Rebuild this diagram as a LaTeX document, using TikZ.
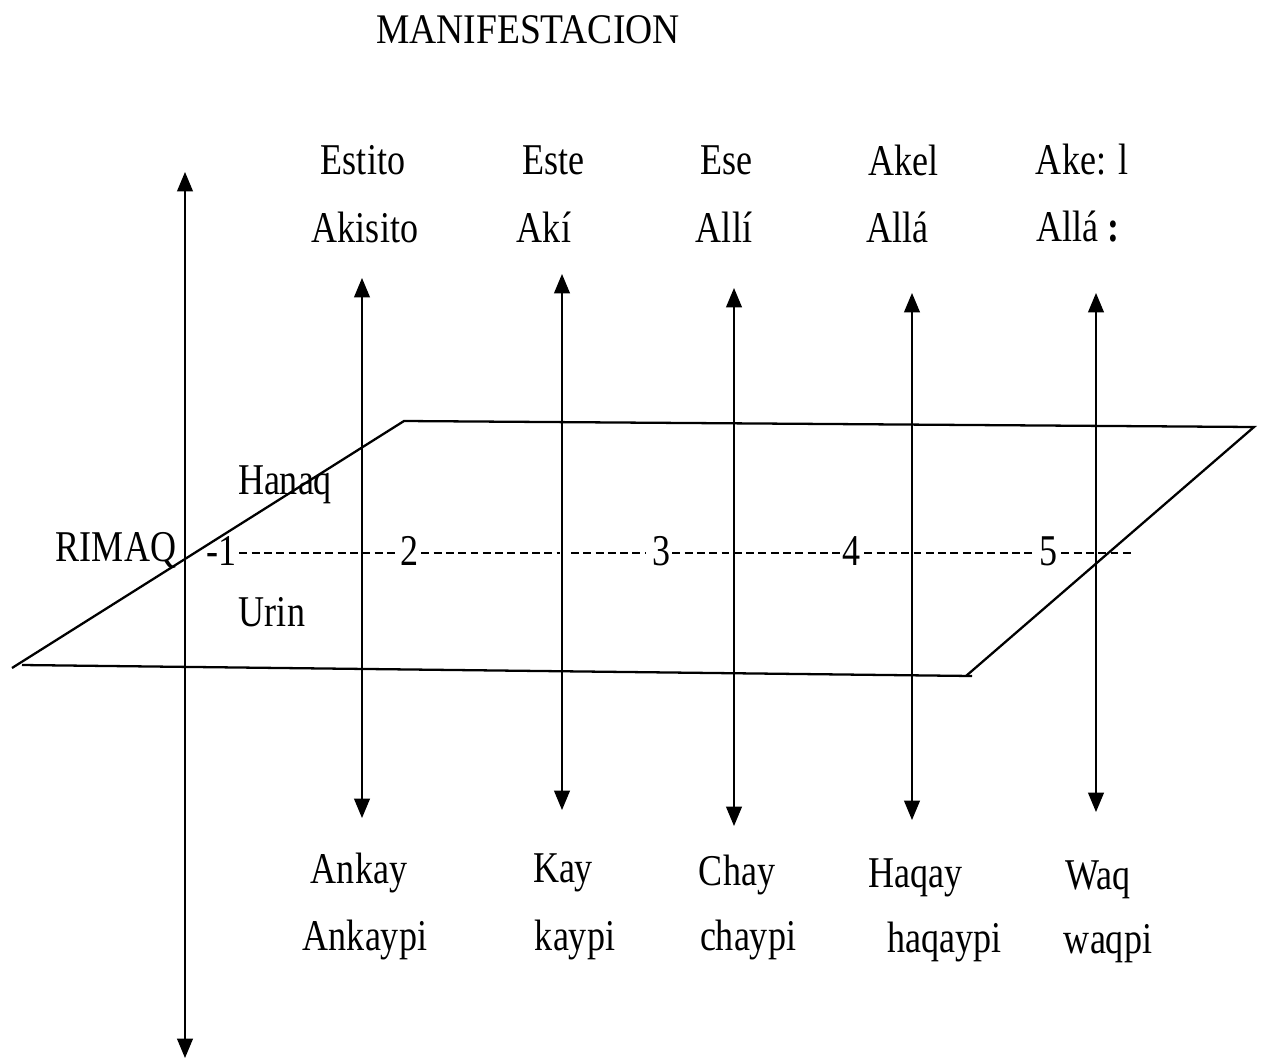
\documentclass[tikz,border=0pt]{standalone}
\usepackage{fontspec}
\setmainfont{Liberation Serif}[FakeStretch=0.82]
\newfontfamily\titlefont{Liberation Serif}[FakeStretch=0.89]
\usetikzlibrary{arrows.meta,calc,positioning}

\begin{document}
\begin{tikzpicture}[x=0.02cm, y=-0.02cm,
      word/.style={inner sep=0pt, font=\fontsize{25}{28}\selectfont},
      axis/.style={line width=0.8pt, {Triangle[length=11pt,width=9pt]}-{Triangle[length=11pt,width=9pt]}},
      plane/.style={line width=1.3pt},
      ruler/.style={line width=1.2pt, dash pattern=on 4.5pt off 2.5pt}
    ]
      \useasboundingbox (0,0) rectangle (1265,1062);

      % Title
      \node[word, font=\titlefont\fontsize{24}{27}\selectfont] (title) at (528,30) {MANIFESTACION};

      % Main axis
      \coordinate (axtop) at (185,172);
      \coordinate (axbot) at (185,1058);
      \draw[axis] (axbot) -- (axtop);

      % Plane
      \coordinate (tl) at (404,421);
      \coordinate (tr) at (1254,427);
      \coordinate (br) at (966,676);
      \coordinate (brx) at (972,676);
      \coordinate (bl) at (22,665);
      \coordinate (blx) at (12,668);
      \draw[plane] (blx) -- (tl) -- (tr) -- (br);
      \draw[plane] (bl) -- (brx);

      % Column arrows
      \coordinate (a1t) at (362,278);  \coordinate (a1b) at (362,818);
      \coordinate (a2t) at (562,274);  \coordinate (a2b) at (562,810);
      \coordinate (a3t) at (734,288);  \coordinate (a3b) at (734,826);
      \coordinate (a4t) at (912,293);  \coordinate (a4b) at (912,820);
      \coordinate (a5t) at (1096,293); \coordinate (a5b) at (1096,812);
      \draw[axis] (a1b) -- (a1t);
      \draw[axis] (a2b) -- (a2t);
      \draw[axis] (a3b) -- (a3t);
      \draw[axis] (a4b) -- (a4t);
      \draw[axis] (a5b) -- (a5t);

      % Upper labels
      \node[word] (estito) at (363,160) {Estito};
      \node[word] (este) at (553,160) {Este};
      \node[word] (ese) at (726,160) {Ese};
      \node[word] (akel) at (903,160) {Akel};
      \node[word] (akeel) at (1082,160) {Ake: l};
      \node[word] (akisito) at (365,227) {Akisito};
      \node[word] (aki) at (544,227) {Akí};
      \node[word] (alli) at (724,227) {Allí};
      \node[word] (alla) at (897,227) {Allá};
      \node[word] (allaa) at (1078,227) {Allá \textbf{:}};

      % Lower labels
      \node[word] (ankay) at (359,873) {Ankay};
      \node[word] (kay) at (563,873) {Kay};
      \node[word] (chay) at (737,875) {Chay};
      \node[word] (haqay) at (915,878) {Haqay};
      \node[word] (waq) at (1098,880) {Waq};
      \node[word] (ankaypi) at (365,940) {Ankaypi};
      \node[word] (kaypi) at (575,940) {kaypi};
      \node[word] (chaypi) at (748,940) {chaypi};
      \node[word] (haqaypi) at (944,942) {haqaypi};
      \node[word] (waqpi) at (1108,944) {waqpi};

      % Hanaq / Urin
      \node[word] (hanaq) at (285,485) {Hanaq};
      \node[word] (urin) at (272,612) {Urin};

      % Scale line
      \node[word] (rimaq) at (116,551) {RIMAQ};
      \node[word] (n1) at (222,551) {-1};
      \node[word] (n2) at (410,551) {2};
      \node[word] (n3) at (661,551) {3};
      \node[word] (n4) at (851,551) {4};
      \node[word] (n5) at (1048,551) {5};
      \coordinate (gapl) at (560,553);
      \coordinate (gapr) at (571,553);
      \coordinate (rend) at (1134,553);
      \draw[ruler] ($(n1.east)+(2,2)$) -- ($(n2.west)+(-2,2)$);
      \draw[ruler] ($(n2.east)+(2,2)$) -- (gapl);
      \draw[ruler] (gapr) -- ($(n3.west)+(-6,2)$);
      \draw[ruler] ($(n3.east)+(2,2)$) -- ($(n4.west)+(-2,2)$);
      \draw[ruler] ($(n4.east)+(4,2)$) -- ($(n5.west)+(-4,2)$);
      \draw[ruler] ($(n5.east)+(4,2)$) -- (rend);
    \end{tikzpicture}
\end{document}
